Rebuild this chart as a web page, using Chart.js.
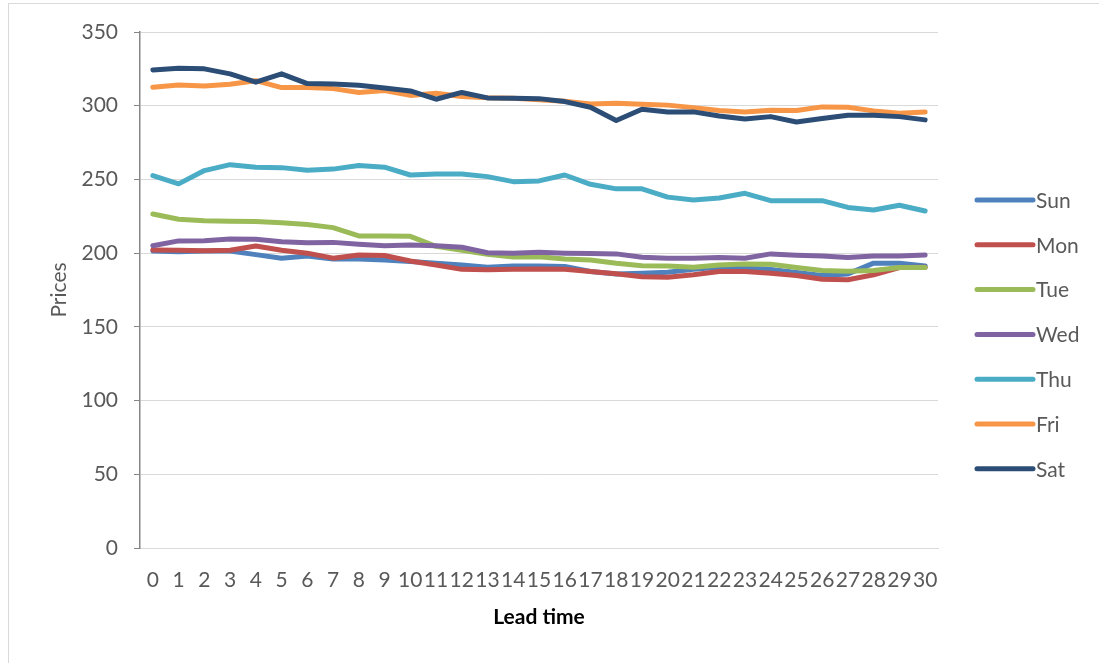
<!DOCTYPE html>
<html>
<head>
<meta charset="utf-8">
<title>Prices by lead time</title>
<script src="https://cdn.jsdelivr.net/npm/chart.js@4/dist/chart.umd.min.js"></script>
<style>
  html, body { margin: 0; padding: 0; background: #fff; }
  #wrap { width: 1099px; height: 663px; }
</style>
</head>
<body>
<div id="wrap"><canvas id="myChart" width="1099" height="663"></canvas></div>
<script>
// lead time in days, 0..30
const leadTimes = ['0','1','2','3','4','5','6','7','8','9','10','11','12','13','14','15',
                   '16','17','18','19','20','21','22','23','24','25','26','27','28','29','30'];

const dayNames = ['Sun', 'Mon', 'Tue', 'Wed', 'Thu', 'Fri', 'Sat'];
const dayColors = ['#4F81BD', '#C0504D', '#9BBB59', '#8064A2', '#4BACC6', '#F79646', '#2C4D75'];

const sunPrices = [201.5, 201, 201.5, 201.5, 199, 196.6, 198, 196, 196, 195.4, 194.3, 193.2, 192, 190.4, 191.3, 191.3,
                   190.9, 187.5, 185.8, 186.4, 187.1, 189, 190.4, 189.7, 189, 186.9, 184.8, 185.9, 193.2, 193.2, 191.3];
const monPrices = [202.2, 202, 201.7, 202, 204.9, 202, 200, 196.6, 198.8, 198.4, 194.7, 192, 189, 188.7, 189, 189.2,
                   189, 187.5, 186, 184, 183.7, 185.3, 187.5, 187.5, 186.4, 184.8, 182.3, 182, 185.3, 190.2, 190.4];
const tuePrices = [226.6, 223, 222, 221.6, 221.4, 220.6, 219.4, 217.3, 211.7, 211.7, 211.4, 204.6, 202, 199.2, 197.4, 197.6,
                   196, 195.4, 193.2, 191.5, 191.3, 190.4, 192, 192.7, 192.4, 190.2, 188.2, 187.7, 188.2, 190.2, 190.2];
const wedPrices = [205, 208.3, 208.4, 209.6, 209.5, 207.8, 207.1, 207.3, 206, 205, 205.6, 205, 204, 200.3, 200, 200.6,
                   200, 199.7, 199.5, 197.2, 196.5, 196.5, 197, 196.5, 199.5, 198.6, 198, 197, 198, 198, 198.8];
const thuPrices = [252.6, 247, 256, 260, 258.3, 258, 256.2, 257, 259.4, 258.3, 253, 253.7, 253.7, 251.9, 248.5, 249,
                   253, 246.7, 243.6, 243.6, 238, 236, 237.4, 240.6, 235.6, 235.6, 235.6, 231, 229.3, 232.5, 228.6];
const friPrices = [312.5, 314, 313.4, 314.6, 317, 312.3, 312.3, 311.6, 309, 310.3, 307, 308.4, 306.2, 305.4, 305, 304,
                   303, 301.2, 301.6, 301, 300.4, 298.7, 296.7, 295.8, 297, 296.7, 299.2, 299, 296.5, 294.9, 295.8];
const satPrices = [324.3, 325.4, 325, 321.6, 316, 321.6, 315, 314.8, 313.9, 312, 310, 304.4, 309, 305.3, 305, 304.8,
                   302.8, 299, 290, 297.6, 295.8, 295.8, 293, 291, 292.6, 289, 291.3, 293.5, 293.5, 292.6, 290.4];

const yTicks = [0, 50, 100, 150, 200, 250, 300, 350];

const seriesValues = [sunPrices, monPrices, tuePrices, wedPrices, thuPrices, friPrices, satPrices];

const FONT = 'Lato, "Open Sans", sans-serif';
const GREY_TEXT = '#595959';

// light frame round the whole chart (only top and left edges show)
const framePlugin = {
  id: 'frame',
  beforeDraw(chart) {
    const ctx = chart.ctx;
    ctx.save();
    ctx.fillStyle = '#fff';
    ctx.fillRect(0, 0, chart.width, chart.height);
    ctx.strokeStyle = '#d9d9d9';
    ctx.lineWidth = 1;
    ctx.strokeRect(8.5, 3.5, chart.width + 20, chart.height + 20);
    ctx.restore();
  }
};

// legend on the right, drawn by hand so the line samples sit close to the text
const sideLegend = {
  id: 'sideLegend',
  afterDraw(chart) {
    const ctx = chart.ctx;
    const x0 = 977, x1 = 1033, textX = 1036;
    const firstY = 200, gap = 44.8;
    ctx.save();
    ctx.font = '21px ' + FONT;
    ctx.textBaseline = 'middle';
    ctx.textAlign = 'left';
    chart.data.datasets.forEach((ds, i) => {
      const y = firstY + i * gap;
      ctx.strokeStyle = ds.borderColor;
      ctx.lineWidth = 5;
      ctx.lineCap = 'round';
      ctx.beginPath();
      ctx.moveTo(x0, y);
      ctx.lineTo(x1, y);
      ctx.stroke();
      ctx.fillStyle = GREY_TEXT;
      ctx.fillText(ds.label, textX, y + 1);
    });
    ctx.restore();
  }
};

const datasets = dayNames.map((name, i) => ({
  label: name,
  data: seriesValues[i],
  borderColor: dayColors[i],
  backgroundColor: dayColors[i],
  borderWidth: 5,
  borderJoinStyle: 'round',
  borderCapStyle: 'round',
  pointRadius: 0,
  tension: 0,
  fill: false,
  order: dayNames.length - i   // later days painted on top
}));

const ctx = document.getElementById('myChart').getContext('2d');
const myChart = new Chart(ctx, {
  type: 'line',
  data: {
    labels: leadTimes,
    datasets: datasets
  },
  options: {
    responsive: false,
    animation: false,
    layout: {
      padding: { left: 8, top: 32, right: 161, bottom: 0 }
    },
    plugins: {
      legend: { display: false },
      tooltip: { enabled: false }
    },
    scales: {
      x: {
        offset: true,
        grid: { display: false },
        border: { display: true, color: '#d9d9d9', width: 1 },
        ticks: {
          autoSkip: false,
          maxRotation: 0,
          minRotation: 0,
          padding: 12,
          color: GREY_TEXT,
          font: { family: FONT, size: 21 }
        },
        title: {
          display: true,
          text: 'Lead time',
          color: '#000',
          font: { family: FONT, size: 21, weight: 'bold' },
          padding: { top: 0, bottom: 33 }
        },
        afterFit(scale) { scale.height = 115; }
      },
      y: {
        min: 0,
        max: 350,
        afterBuildTicks(scale) {
          scale.ticks = yTicks.map(v => ({ value: v }));
        },
        grid: {
          color: '#d9d9d9',
          lineWidth: 1,
          tickLength: 6,
          tickColor: '#868686'
        },
        border: { display: true, color: '#868686', width: 1.5 },
        ticks: {
          padding: 16,
          color: GREY_TEXT,
          font: { family: FONT, size: 21 }
        },
        title: {
          display: true,
          text: 'Prices',
          color: GREY_TEXT,
          font: { family: FONT, size: 21 },
          padding: { top: 39, bottom: 0 }
        },
        afterFit(scale) { scale.width = 132; }
      }
    }
  },
  plugins: [framePlugin, sideLegend]
});
</script>
</body>
</html>
